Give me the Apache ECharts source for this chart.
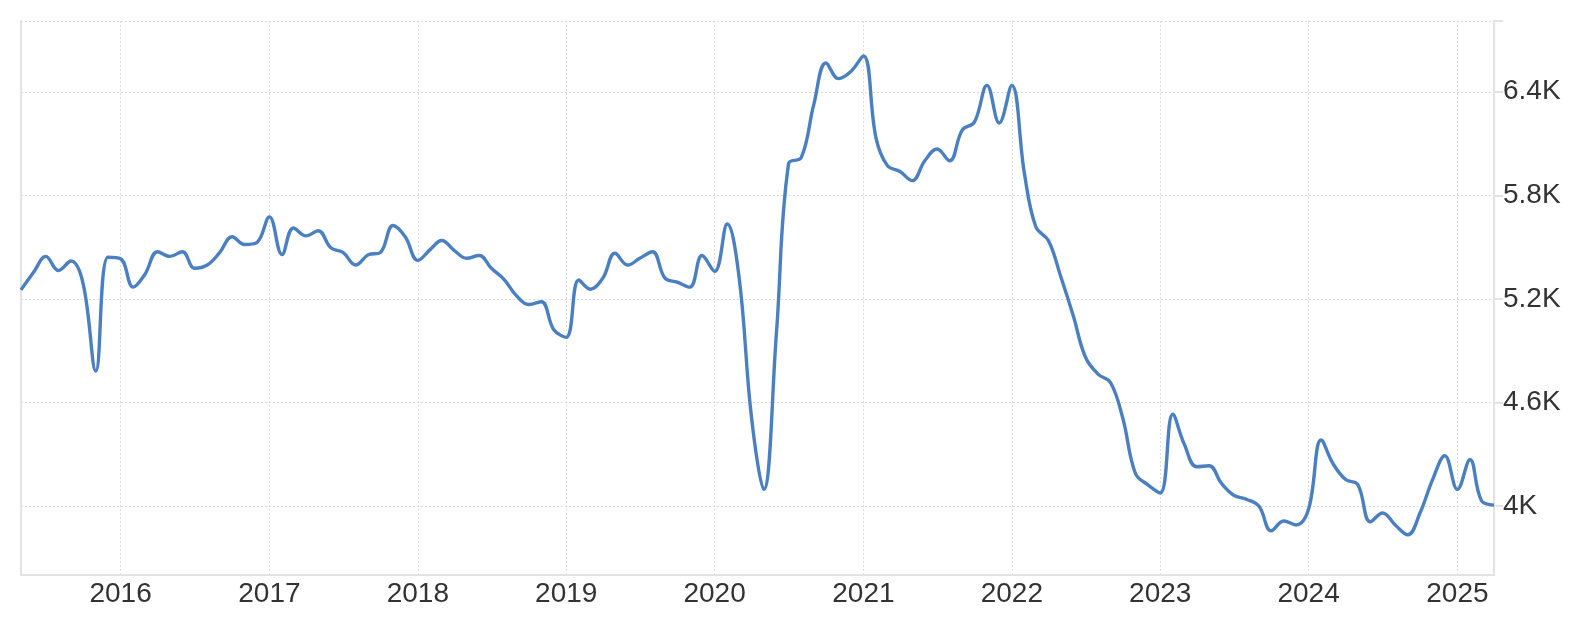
<!DOCTYPE html>
<html>
<head>
<meta charset="utf-8">
<script src="https://cdn.jsdelivr.net/npm/echarts@6/dist/echarts.min.js"></script>
<style>
html,body{margin:0;padding:0;background:#fff;}
#chart{width:1574px;height:619px;}
</style>
</head>
<body>
<div id="chart"></div>
<script>
// Monthly series, first month May 2015
const startYear = 2015;
const startMonth = 5;
const values = [
5252,5354,5446,5364,5419,5286,4782,5441,5432,5268,5343,5473,
5446,5473,5377,5396,5469,5560,5515,5526,5675,5457,5611,5565,
5595,5496,5469,5396,5455,5469,5625,5560,5423,5487,5538,5480,
5435,5451,5377,5313,5217,5167,5183,5023,4977,5309,5256,5320,
5464,5396,5435,5473,5320,5297,5268,5451,5359,5634,5330,4508,
4096,5000,5984,6018,6327,6567,6476,6517,6608,6132,5972,5938,
5885,6000,6068,6000,6178,6224,6437,6219,6437,5927,5618,5538,
5332,5103,4863,4764,4714,4508,4188,4124,4075,4531,4359,4227,
4233,4130,4062,4039,3998,3856,3913,3890,3982,4382,4245,4153,
4124,3908,3959,3890,3833,3959,4153,4291,4096,4268,4032,4005
];
const yearTicks = [2016,2017,2018,2019,2020,2021,2022,2023,2024,2025];
const yTicks = [4000,4600,5200,5800,6400];
const yMin = 3600;
const yMax = 6810;

function monthDate(i){
  const m = startMonth - 1 + i;
  return Date.UTC(startYear + Math.floor(m/12), m % 12, 1);
}
const data = values.map((v,i)=>[monthDate(i), v]);
const xTickVals = yearTicks.map(y=>Date.UTC(y,0,1));

const chart = echarts.init(document.getElementById('chart'), null, {renderer:'canvas'});
const gridColor = '#dcdcdc';
chart.setOption({
  animation:false,
  backgroundColor:'#fff',
  grid:{left:21,right:80,top:21,bottom:44,containLabel:false},
  xAxis:{
    type:'value',
    min:data[0][0],
    max:data[data.length-1][0],
    axisLine:{show:true,lineStyle:{color:'#e3e3e3',width:2}},
    axisTick:{show:false,customValues:xTickVals},
    axisLabel:{
      customValues:xTickVals,
      formatter:function(v){return String(new Date(v).getUTCFullYear());},
      fontFamily:'Liberation Sans, Arial, sans-serif',
      fontSize:28,color:'#333',margin:5,hideOverlap:false
    },
    splitLine:{show:true,lineStyle:{color:gridColor,type:[2,2],width:1}}
  },
  yAxis:[{
    type:'value',
    position:'right',
    min:yMin,max:yMax,
    axisLine:{show:true,lineStyle:{color:'#e3e3e3',width:2}},
    axisTick:{show:true,length:9,customValues:yTicks.concat([yMax]),lineStyle:{color:'#e3e3e3',width:2}},
    axisLabel:{
      customValues:yTicks,
      formatter:function(v){return (v/1000)+'K';},
      fontFamily:'Liberation Sans, Arial, sans-serif',
      fontSize:28,color:'#333',margin:9,
      padding:[0,0,9,0]
    },
    splitLine:{show:true,lineStyle:{color:gridColor,type:[2,2],width:1}}
  },{
    type:'value',
    position:'left',
    min:yMin,max:yMax,
    axisLine:{show:true,lineStyle:{color:'#e3e3e3',width:2}},
    axisTick:{show:false},
    axisLabel:{show:false},
    splitLine:{show:false}
  }],
  series:[{
    type:'line',
    data:data,
    yAxisIndex:0,
    smooth:0.4,
    showSymbol:false,
    symbol:'none',
    lineStyle:{color:'#4a7fc1',width:3.4},
    z:5
  }]
});
</script>
</body>
</html>
